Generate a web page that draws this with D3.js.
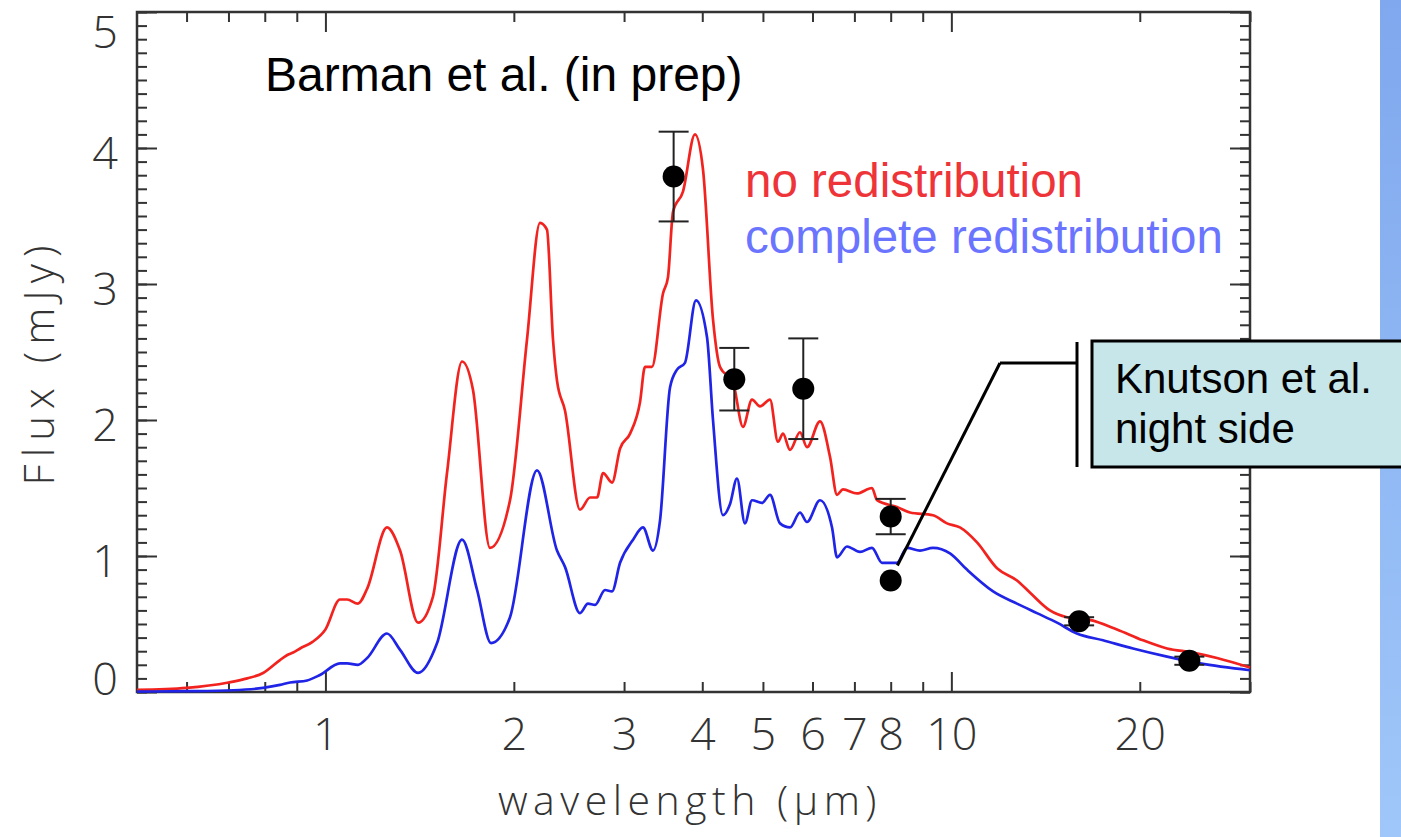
<!DOCTYPE html>
<html>
<head>
<meta charset="utf-8">
<script src="https://cdn.jsdelivr.net/npm/d3@7"></script>
<style>
body { margin: 0; background: #fff; }
.axisLabel text { font-family: "Open Sans", "DejaVu Sans", sans-serif; font-weight: 300; fill: #333; }
.titulo { font-family: "Liberation Sans", Arial, sans-serif; }
.ejeTitulo { font-family: "Open Sans", "DejaVu Sans", sans-serif; font-weight: 300; fill: #333; }
</style>
</head>
<body>
<div id="chart"></div>
<script>
// Datos: modelo sin redistribucion (rojo)
const redWave = [0.50, 0.60, 0.70, 0.75, 0.795, 0.846, 0.868, 0.888, 0.911, 0.955, 1.0, 1.055, 1.083, 1.127, 1.166,
  1.254, 1.316, 1.406, 1.485, 1.564, 1.653, 1.721, 1.832, 1.972, 2.099, 2.202, 2.259, 2.31, 2.344, 2.414,
  2.551, 2.647, 2.716, 2.777, 2.870, 2.956, 3.067, 3.181, 3.240, 3.324, 3.462, 3.526, 3.592, 3.726, 3.894,
  4.011, 4.161, 4.270, 4.478, 4.646, 4.803, 4.947, 5.132, 5.284, 5.383, 5.524, 5.730, 5.880, 6.168, 6.399,
  6.567, 6.712, 7.067, 7.468, 7.607, 8.187, 8.589, 9.346, 9.840, 10.32, 10.99, 11.83, 12.73, 13.36, 14.37,
  15.30, 16.65, 18.39, 20.24, 22.11, 24.32, 26.57, 30.0]
const redFlux = [0.015, 0.03, 0.07, 0.10, 0.14, 0.235, 0.27, 0.29, 0.32, 0.37, 0.46, 0.68, 0.68, 0.65, 0.76,
  1.21, 1.04, 0.51, 0.70, 1.61, 2.43, 2.22, 1.06, 1.41, 2.59, 3.45, 3.40, 2.59, 2.29, 2.07,
  1.34, 1.43, 1.43, 1.61, 1.54, 1.79, 1.90, 2.13, 2.39, 2.39, 2.93, 3.05, 3.53, 3.68, 4.10,
  3.84, 2.74, 2.39, 2.28, 1.95, 2.15, 2.10, 2.15, 1.84, 1.90, 1.78, 1.91, 1.80, 1.99, 1.73,
  1.45, 1.49, 1.46, 1.50, 1.41, 1.36, 1.32, 1.30, 1.24, 1.21, 1.10, 0.91, 0.82, 0.73, 0.60,
  0.55, 0.53, 0.46, 0.38, 0.32, 0.29, 0.25, 0.18]

// Datos: modelo con redistribucion completa (azul)
const blueWave = [0.50, 0.60, 0.712, 0.795, 0.846, 0.878, 0.935, 0.98, 1.055, 1.083, 1.127, 1.166, 1.254, 1.316, 1.406,
  1.508, 1.653, 1.747, 1.839, 1.972, 2.178, 2.344, 2.414, 2.551, 2.627, 2.696, 2.797, 2.870, 2.956, 3.101,
  3.216, 3.337, 3.424, 3.553, 3.645, 3.753, 3.908, 4.070, 4.161, 4.316, 4.429, 4.545, 4.680, 4.803, 4.983,
  5.132, 5.324, 5.524, 5.730, 5.880, 6.168, 6.447, 6.567, 6.811, 7.145, 7.468, 7.747, 8.187, 8.494, 8.909,
  9.346, 9.949, 10.59, 11.66, 12.73, 13.70, 14.75, 15.87, 17.47, 19.51, 22.11, 24.96, 30.0]
const blueFlux = [0.003, 0.006, 0.013, 0.03, 0.052, 0.07, 0.085, 0.125, 0.21, 0.21, 0.20, 0.25, 0.43, 0.31, 0.14,
  0.36, 1.12, 0.75, 0.36, 0.55, 1.63, 1.04, 0.92, 0.58, 0.65, 0.64, 0.75, 0.74, 0.95, 1.12,
  1.21, 1.04, 1.26, 2.24, 2.37, 2.42, 2.88, 2.61, 2.00, 1.30, 1.38, 1.57, 1.24, 1.41, 1.39,
  1.45, 1.24, 1.21, 1.32, 1.25, 1.41, 1.21, 0.99, 1.07, 1.03, 1.06, 0.95, 0.95, 1.06, 1.04,
  1.06, 1.02, 0.90, 0.74, 0.65, 0.58, 0.51, 0.43, 0.38, 0.32, 0.26, 0.21, 0.16]

// Observaciones (lado diurno) y lado nocturno
const obsWave = [3.6, 4.5, 5.8, 8.0, 16.0, 24.0]
const obsFlux = [3.79, 2.30, 2.23, 1.29, 0.52, 0.23]
const obsErr = [0.33, 0.23, 0.37, 0.13, 0.03, 0.03]
const nightWave = [8.0]
const nightFlux = [0.82]

// Ticks
const xMajor = [1, 10]
const xMinor = [0.6, 0.7, 0.8, 0.9, 2, 3, 4, 5, 6, 7, 8, 9, 20, 30]
const xLabels = [1, 2, 3, 4, 5, 6, 7, 8, 10, 20]
const yMajor = [0, 1, 2, 3, 4, 5]
const yMinor = d3.range(0, 51).map(d => d / 10)

//Constantes
const width = 1401
const height = 837
const margin = { top: 12, right: 151, bottom: 145, left: 137 }
const innerW = width - margin.left - margin.right
const innerH = height - margin.top - margin.bottom

const svg = d3.select("#chart")
  .append("svg")
  .attr("width", width)
  .attr("height", height)

// franja azul a la derecha
const grad = svg.append("defs").append("linearGradient")
  .attr("id", "franja").attr("x1", 0).attr("y1", 0).attr("x2", 0).attr("y2", 1)
grad.append("stop").attr("offset", "0%").attr("stop-color", "#7fa8ee")
grad.append("stop").attr("offset", "100%").attr("stop-color", "#a0c7f9")
svg.append("rect")
  .attr("x", 1380).attr("y", 0)
  .attr("width", 21).attr("height", height)
  .attr("fill", "url(#franja)")

const g = svg.append("g").attr("transform", `translate(${margin.left}, ${margin.top})`)

//Escalas
const x = d3.scaleLog().domain([0.5, 30]).range([0, innerW])
const y = d3.scaleLinear().domain([0, 5]).range([innerH, 0])

// ticks hacia dentro en los cuatro lados
function ticks(axis, values, size, transform) {
  const grp = g.append("g")
    .attr("transform", transform)
    .call(axis.tickValues(values).tickSize(-size).tickSizeOuter(0).tickFormat(""))
  grp.select(".domain").remove()
  grp.selectAll("line").attr("stroke", "#333").attr("stroke-width", 2)
}
ticks(d3.axisBottom(x), xMajor, 20, `translate(0, ${innerH})`)
ticks(d3.axisBottom(x), xMinor, 10, `translate(0, ${innerH})`)
ticks(d3.axisTop(x), xMajor, 20, "translate(0, 0)")
ticks(d3.axisTop(x), xMinor, 10, "translate(0, 0)")
ticks(d3.axisLeft(y), yMajor, 20, "translate(0, 0)")
ticks(d3.axisLeft(y), yMinor, 10, "translate(0, 0)")
ticks(d3.axisRight(y), yMajor, 20, `translate(${innerW}, 0)`)
ticks(d3.axisRight(y), yMinor, 10, `translate(${innerW}, 0)`)

// etiquetas de los ejes
const xLab = g.append("g")
  .attr("class", "axisLabel")
  .attr("transform", `translate(0, ${innerH})`)
  .call(d3.axisBottom(x).tickValues(xLabels).tickSize(0).tickPadding(26).tickFormat(d3.format("d")))
xLab.select(".domain").remove()
xLab.selectAll("text").style("font-size", "45px")

const yLab = g.append("g")
  .attr("class", "axisLabel")
  .call(d3.axisLeft(y).tickValues(yMajor).tickSize(0).tickPadding(19).tickFormat(d3.format("d")))
yLab.select(".domain").remove()
yLab.selectAll("text")
  .style("font-size", "45px")
  .attr("dy", d => d === 5 ? "0.78em" : d === 0 ? "0.05em" : "0.45em")

// marco
g.append("rect")
  .attr("width", innerW).attr("height", innerH)
  .attr("fill", "none").attr("stroke", "#333").attr("stroke-width", 2.5)

// curvas del modelo
const linea = d3.line()
  .x(d => x(d[0]))
  .y(d => y(d[1]))
  .curve(d3.curveMonotoneX)

g.append("path")
  .datum(d3.zip(redWave, redFlux))
  .attr("fill", "none").attr("stroke", "#f2231f").attr("stroke-width", 2.7)
  .attr("d", linea)

g.append("path")
  .datum(d3.zip(blueWave, blueFlux))
  .attr("fill", "none").attr("stroke", "#1f24e6").attr("stroke-width", 2.7)
  .attr("d", linea)

// barras de error
const obs = obsWave.map((w, i) => ({ w: w, f: obsFlux[i], e: obsErr[i] }))
const err = g.selectAll(".err").data(obs).enter().append("g").attr("class", "err")
  .attr("stroke", "#222").attr("stroke-width", 2)
err.append("line")
  .attr("x1", d => x(d.w)).attr("x2", d => x(d.w))
  .attr("y1", d => y(d.f - d.e)).attr("y2", d => y(d.f + d.e))
err.append("line")
  .attr("x1", d => x(d.w) - 15).attr("x2", d => x(d.w) + 15)
  .attr("y1", d => y(d.f + d.e)).attr("y2", d => y(d.f + d.e))
err.append("line")
  .attr("x1", d => x(d.w) - 15).attr("x2", d => x(d.w) + 15)
  .attr("y1", d => y(d.f - d.e)).attr("y2", d => y(d.f - d.e))

g.selectAll(".punto").data(obs).enter().append("circle")
  .attr("cx", d => x(d.w)).attr("cy", d => y(d.f)).attr("r", 11).attr("fill", "#000")

g.selectAll(".noche").data(nightWave).enter().append("circle")
  .attr("cx", d => x(d)).attr("cy", (d, i) => y(nightFlux[i])).attr("r", 11).attr("fill", "#000")

// textos
svg.append("text").attr("class", "titulo")
  .attr("x", 265).attr("y", 91).style("font-size", "48px").attr("fill", "#000")
  .text("Barman et al. (in prep)")
svg.append("text").attr("class", "titulo")
  .attr("x", 745).attr("y", 197).style("font-size", "47.5px").attr("fill", "#ee3438")
  .text("no redistribution")
svg.append("text").attr("class", "titulo")
  .attr("x", 745).attr("y", 253).style("font-size", "47.5px").attr("fill", "#6a74ff")
  .text("complete redistribution")

// ejes: titulos
svg.append("text").attr("class", "ejeTitulo")
  .attr("x", 690).attr("y", 815).attr("text-anchor", "middle")
  .style("font-size", "41px").style("letter-spacing", "5.5px")
  .text("wavelength (\u03bcm)")
svg.append("text").attr("class", "ejeTitulo")
  .attr("transform", "translate(54, 362) rotate(-90)").attr("text-anchor", "middle")
  .style("font-size", "42px").style("letter-spacing", "7px")
  .text("Flux (mJy)")

// anotacion Knutson
const ann = svg.append("g").attr("stroke", "#000").attr("stroke-width", 3)
ann.append("line").attr("x1", 1000).attr("y1", 363).attr("x2", 1077).attr("y2", 363)
ann.append("line").attr("x1", 1077).attr("y1", 342).attr("x2", 1077).attr("y2", 467)
ann.append("line").attr("x1", 1000).attr("y1", 363)
  .attr("x2", margin.left + x(8.2)).attr("y2", margin.top + y(0.93))
svg.append("rect")
  .attr("x", 1092).attr("y", 341).attr("width", 330).attr("height", 126)
  .attr("fill", "#c6e6e9").attr("stroke", "#000").attr("stroke-width", 3)
svg.append("text").attr("class", "titulo")
  .attr("x", 1115).attr("y", 393).style("font-size", "42px").attr("fill", "#000")
  .text("Knutson et al.")
svg.append("text").attr("class", "titulo")
  .attr("x", 1115).attr("y", 443).style("font-size", "42px").attr("fill", "#000")
  .text("night side")
</script>
</body>
</html>
